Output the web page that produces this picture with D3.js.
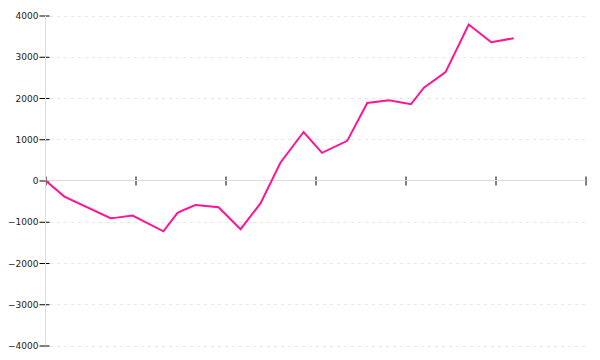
<!DOCTYPE html>
<html>
<head>
<meta charset="utf-8">
<script src="https://cdn.jsdelivr.net/npm/d3@7"></script>
<style>
  html, body { margin: 0; padding: 0; background: #fff; }
  svg { display: block; }
  text { font-family: "DejaVu Sans", Verdana, sans-serif; font-size: 9px; fill: #222; }
</style>
</head>
<body>
<svg id="chart" width="600" height="360"></svg>
<script>
// x positions (arbitrary time units) and series values
const xValues = [0, 0.84, 2.89, 3.16, 3.87, 5.24, 5.87, 6.22, 6.67, 7.69, 8.67, 9.56, 10.44, 11.47, 12.29, 13.41, 14.3, 15.26, 16.24, 16.82, 17.78, 18.81, 19.81, 20.81];
const seriesValues = [0, -390, -915, -900, -850, -1232, -785, -696, -592, -647, -1179, -551, 430, 1176, 671, 961, 1879, 1944, 1848, 2250, 2628, 3780, 3353, 3449];
const yTicks = [-4000, -3000, -2000, -1000, 0, 1000, 2000, 3000, 4000];
const xTicks = [0, 4, 8, 12, 16, 20, 24];

const svg = d3.select("#chart");
const x = d3.scaleLinear().domain([0, 24]).range([45.5, 585.5]);
const y = d3.scaleLinear().domain([-4000, 4000]).range([345.5, 15.5]);

// gridlines
svg.append("g").selectAll("line").data(yTicks.filter(d => d !== 0)).join("line")
  .attr("x1", 50).attr("x2", 585)
  .attr("y1", d => Math.round(y(d)) + 0.5).attr("y2", d => Math.round(y(d)) + 0.5)
  .attr("stroke", "#e6e6e6").attr("stroke-dasharray", "3,4");

// y axis
const yAxis = d3.axisLeft(y).tickValues(yTicks).tickSize(0).tickPadding(7).tickFormat(d3.format("d"));
const yg = svg.append("g").attr("transform", "translate(45.5,0)").call(yAxis);
yg.select(".domain").remove();
yg.selectAll("text").attr("dy", "0.35em").style("font-family", "DejaVu Sans").style("font-size", "9px").attr("fill", "#222");
yg.selectAll(".tick").append("line")
  .attr("x1", -6).attr("x2", 4).attr("stroke", "#000");

// x axis ticks (unlabelled)
const xAxis = d3.axisBottom(x).tickValues(xTicks).tickSize(0).tickFormat("");
const xg = svg.append("g").attr("transform", `translate(0,${y(0)})`).call(xAxis);
xg.select(".domain").remove();
xg.selectAll(".tick").append("line")
  .attr("y1", -4).attr("y2", 5).attr("stroke", "#000");

// axis lines (drawn over ticks)
svg.append("line").attr("x1", x(0)).attr("x2", x(0)).attr("y1", y(4000)).attr("y2", y(-4000))
  .attr("stroke", "#dcdcdc");
svg.append("line").attr("x1", x(0)).attr("x2", x(24)).attr("y1", y(0)).attr("y2", y(0))
  .attr("stroke", "#dcdcdc");

// series line
const data = xValues.map((v, i) => ({ x: v, y: seriesValues[i] }));
const line = d3.line().x(d => x(d.x)).y(d => y(d.y));
svg.append("path").datum(data)
  .attr("d", line)
  .attr("fill", "none")
  .attr("stroke", "#ff1493")
  .attr("stroke-width", 2)
  .attr("stroke-linejoin", "miter");
</script>
</body>
</html>
